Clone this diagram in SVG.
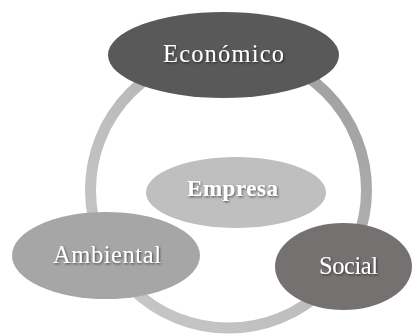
<svg xmlns="http://www.w3.org/2000/svg" width="413" height="335" viewBox="0 0 413 335">
<defs>
<linearGradient id="ringGrad" x1="1" y1="0" x2="0" y2="1">
<stop offset="0" stop-color="#9a9a9a"/>
<stop offset="0.55" stop-color="#bdbdbd"/>
<stop offset="1" stop-color="#c9c9c9"/>
</linearGradient>
<filter id="ts" x="-10%" y="-30%" width="130%" height="160%">
<feDropShadow dx="1" dy="1.2" stdDeviation="0.8" flood-color="#000" flood-opacity="0.55"/>
</filter>
</defs>
<style>
.lbl{font-family:"Liberation Serif","Times New Roman",serif;font-size:24.5px;fill:#ffffff;text-anchor:middle;filter:url(#ts)}
.bold{font-weight:bold;font-size:23px}
</style>
<rect width="413" height="335" fill="#ffffff"/>
<g id="connectors">
<circle cx="228.5" cy="190" r="138" fill="none" stroke="url(#ringGrad)" stroke-width="11"/>
</g>
<g id="empresa">
<ellipse cx="236" cy="192.5" rx="90" ry="35.5" fill="#bfbfbf"/>
<text class="lbl bold" x="232.5" y="195.5" textLength="91" lengthAdjust="spacing">Empresa</text>
</g>
<g id="economico">
<ellipse cx="223.5" cy="55" rx="115.5" ry="43" fill="#595959"/>
<text class="lbl" x="223.5" y="62" textLength="121" lengthAdjust="spacing">Económico</text>
</g>
<g id="ambiental">
<ellipse cx="106" cy="255.5" rx="94" ry="43.5" fill="#a6a6a6"/>
<text class="lbl" x="107" y="263" textLength="108" lengthAdjust="spacing">Ambiental</text>
</g>
<g id="social">
<ellipse cx="343.5" cy="266.5" rx="68.5" ry="43.5" fill="#767171"/>
<text class="lbl" x="348.5" y="273.5" textLength="59" lengthAdjust="spacing">Social</text>
</g>
</svg>
